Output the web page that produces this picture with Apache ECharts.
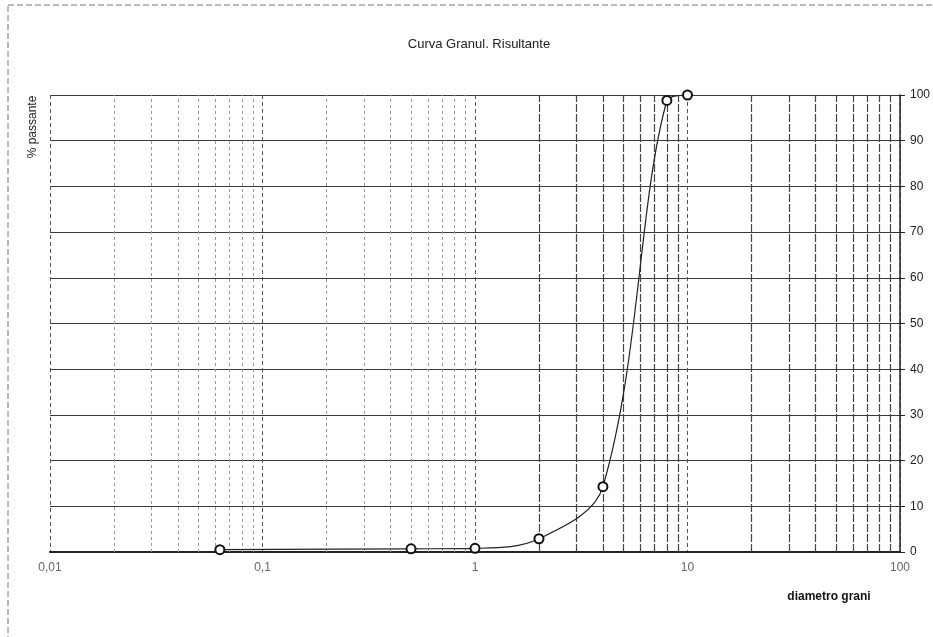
<!DOCTYPE html>
<html>
<head>
<meta charset="utf-8">
<script src="https://cdn.jsdelivr.net/npm/echarts@6/dist/echarts.min.js"></script>
<style>html,body{margin:0;padding:0;background:#fff}#c{width:933px;height:637px}</style>
</head>
<body>
<div id="c"></div>
<script>
// Data
var diameters = [0.063, 0.5, 1, 2, 4, 8, 10];
var passing = [0.5, 0.7, 0.8, 2.9, 14.3, 98.8, 100];
var yTicks = [0, 10, 20, 30, 40, 50, 60, 70, 80, 90, 100];
var xTickLabels = {"0.01": "0,01", "0.1": "0,1", "1": "1", "10": "10", "100": "100"};
var minorLow = [0.02,0.03,0.04,0.05,0.06,0.07,0.08,0.09,0.2,0.3,0.4,0.5,0.6,0.7,0.8,0.9];
var minorHigh = [2,3,4,5,6,7,8,9,20,30,40,50,60,70,80,90];

var chart = echarts.init(document.getElementById('c'), null, {renderer: 'canvas'});
var font = "'Liberation Sans Narrow','Arial Narrow','Liberation Sans',Arial,sans-serif";

function vlines(arr) {
  return arr.map(function (v) { return {xAxis: v}; });
}

chart.setOption({
  backgroundColor: '#fff',
  animation: false,
  title: {
    text: 'Curva Granul. Risultante',
    left: 474, top: 33, textAlign: 'center',
    textStyle: {fontFamily: font, fontSize: 13, fontWeight: 'normal', color: '#222'}
  },
  grid: {left: 50, right: 32, top: 95, bottom: 85, containLabel: false},
  xAxis: {
    type: 'log', logBase: 10, min: 0.01, max: 100,
    axisLine: {show: true, onZero: false, lineStyle: {color: '#222', width: 2}},
    axisTick: {show: false},
    axisLabel: {
      color: '#666', fontFamily: font, fontSize: 12, margin: 10,
      formatter: function (v) { var k = String(+v.toPrecision(3)); return xTickLabels[k] !== undefined ? xTickLabels[k] : k; }
    },
    splitLine: {show: true, lineStyle: {color: '#555', width: 1, type: [4, 3]}}
  },
  yAxis: {
    type: 'value', position: 'right', min: 0, max: 100, interval: 10,
    axisLine: {show: true, lineStyle: {color: '#222', width: 1.5}},
    axisTick: {show: true, inside: false, length: 5, lineStyle: {color: '#222'}},
    axisLabel: {color: '#222', fontFamily: font, fontSize: 12, margin: 10},
    splitLine: {show: true, lineStyle: {color: '#3a3a3a', width: 1.2}}
  },
  graphic: [
    {type: 'rect', shape: {x: 8, y: 5, width: 1000, height: 700}, silent: true,
     style: {fill: 'none', stroke: '#777', lineWidth: 1, lineDash: [6, 3]}, z: -1},
    {type: 'text', x: 33, y: 127, rotation: Math.PI / 2,
     style: {text: '% passante', font: '12px ' + font, fill: '#222', textAlign: 'center', textVerticalAlign: 'middle'}},
    {type: 'text', x: 829, y: 597,
     style: {text: 'diametro grani', font: 'bold 12px ' + font, fill: '#111', textAlign: 'center', textVerticalAlign: 'middle'}}
  ],
  series: [
    {
      type: 'line', data: diameters.map(function (d, i) { return [d, passing[i]]; }),
      smooth: 0.35,
      symbol: 'circle', symbolSize: 9, showSymbol: true,
      itemStyle: {color: '#fff', borderColor: '#111', borderWidth: 2},
      lineStyle: {color: '#222', width: 1.2},
      z: 5,
      markLine: {
        silent: true, symbol: 'none', label: {show: false},
        data: vlines(minorLow).map(function (d) { d.lineStyle = {color: '#999', width: 1, type: [3, 3]}; return d; })
          .concat(vlines(minorHigh).map(function (d) { d.lineStyle = {color: '#444', width: 1.2, type: [8, 2]}; return d; }))
      }
    }
  ]
});
</script>
</body>
</html>
